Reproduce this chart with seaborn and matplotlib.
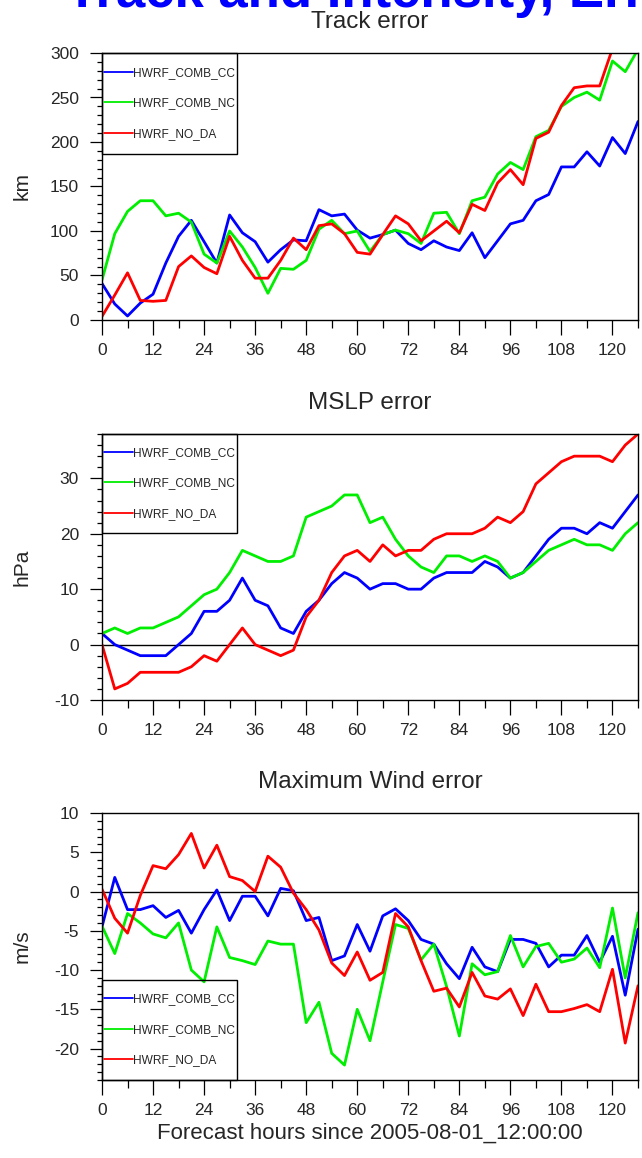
import matplotlib
matplotlib.use("Agg")
import matplotlib.pyplot as plt
import pandas as pd
import seaborn as sns
from matplotlib.lines import Line2D
from matplotlib.patches import Rectangle
from matplotlib.ticker import MultipleLocator

# Forecast lead times (hours), every 3 h
hours = list(range(0, 127, 3))
experiments = ["HWRF_COMB_CC", "HWRF_COMB_NC", "HWRF_NO_DA"]
colors = {"HWRF_COMB_CC": "#0000ff", "HWRF_COMB_NC": "#00ee00", "HWRF_NO_DA": "#ff0000"}

# Track error (km)
track_cc = [41, 18, 4.5, 19, 29, 64, 94, 112, 88, 64, 118, 98, 88, 65, 79, 90, 89, 124, 117, 119, 101,
            92, 96, 101, 86, 79, 89, 82, 78, 98, 70, 89, 108, 112, 134, 141, 172, 172, 189, 173, 205, 187, 223]
track_nc = [45, 97, 122, 134, 134, 117, 120, 110, 74, 64, 100, 82, 59, 30, 58, 57, 67, 102, 112, 97, 100,
            77, 96, 101, 97, 86, 120, 121, 97, 134, 138, 164, 177, 169, 206, 213, 240, 250, 256, 247, 291, 279, 304]
track_noda = [4, 28, 53, 22, 21, 22, 60, 72, 59, 52, 94, 67, 47, 47, 67, 92, 79, 106, 108, 97, 76,
              74, 96, 117, 108, 89, 100, 111, 98, 130, 123, 154, 169, 152, 204, 211, 241, 261, 263, 263, 305, 320, 335]

# Minimum sea-level pressure error (hPa)
mslp_cc = [2, 0, -1, -2, -2, -2, 0, 2, 6, 6, 8, 12, 8, 7, 3, 2, 6, 8, 11, 13, 12,
           10, 11, 11, 10, 10, 12, 13, 13, 13, 15, 14, 12, 13, 16, 19, 21, 21, 20, 22, 21, 24, 27]
mslp_nc = [2, 3, 2, 3, 3, 4, 5, 7, 9, 10, 13, 17, 16, 15, 15, 16, 23, 24, 25, 27, 27,
           22, 23, 19, 16, 14, 13, 16, 16, 15, 16, 15, 12, 13, 15, 17, 18, 19, 18, 18, 17, 20, 22]
mslp_noda = [0, -8, -7, -5, -5, -5, -5, -4, -2, -3, 0, 3, 0, -1, -2, -1, 5, 8, 13, 16, 17,
             15, 18, 16, 17, 17, 19, 20, 20, 20, 21, 23, 22, 24, 29, 31, 33, 34, 34, 34, 33, 36, 38]

# Maximum wind error (m/s)
wind_cc = [-4.5, 1.8, -2.3, -2.3, -1.8, -3.3, -2.4, -5.3, -2.3, 0.2, -3.7, -0.6, -0.6, -3.1, 0.4, 0.1,
           -3.7, -3.3, -8.8, -8.2, -4.2, -7.6, -3.1, -2.2, -3.7, -6.1, -6.7, -9.2, -11.1, -7.1, -9.6,
           -10.2, -6.1, -6.1, -6.6, -9.6, -8.1, -8.1, -5.6, -9.0, -5.7, -13.2, -4.8]
wind_nc = [-4.4, -7.9, -2.8, -4.0, -5.4, -5.9, -4.0, -10.0, -11.5, -4.5, -8.4, -8.8, -9.3, -6.3, -6.7,
           -6.7, -16.7, -14.1, -20.6, -22.1, -15.0, -19.0, -11.5, -4.2, -4.7, -8.7, -6.7, -12.1, -18.4,
           -9.2, -10.6, -10.2, -5.6, -9.6, -7.0, -6.6, -9.0, -8.6, -7.2, -9.7, -2.1, -11.0, -2.7]
wind_noda = [0.3, -3.4, -5.3, -0.5, 3.3, 2.9, 4.7, 7.4, 3.0, 5.9, 1.9, 1.4, 0.0, 4.5, 3.1, -0.2,
             -2.3, -4.9, -9.1, -10.7, -7.7, -11.3, -10.3, -2.8, -4.5, -8.8, -12.7, -12.3, -14.7,
             -10.3, -13.3, -13.7, -12.4, -15.8, -11.8, -15.3, -15.3, -14.9, -14.4, -15.3, -9.9, -19.3, -12.0]

sns.set_style("ticks")
plt.rcParams["font.family"] = ["Liberation Sans", "DejaVu Sans"]
plt.rcParams["axes.unicode_minus"] = False

W, H = 642, 1158
fig = plt.figure(figsize=(W / 100, H / 100), dpi=100)


def axes_px(left, top, right, bottom):
    return fig.add_axes([left / W, 1 - bottom / H, (right - left) / W, (bottom - top) / H])


def long_frame(series):
    rows = []
    for name, vals in zip(experiments, series):
        for h, v in zip(hours, vals):
            rows.append({"hour": h, "value": v, "exp": name})
    return pd.DataFrame(rows)


panels = [
    dict(box=(102, 53, 638, 320), title="Track error", ylabel="km",
         series=(track_cc, track_nc, track_noda), ylim=(0, 300), major=50, minor=10,
         zero=False, legend_top=True, legend_h=101),
    dict(box=(102, 434, 638, 700), title="MSLP error", ylabel="hPa",
         series=(mslp_cc, mslp_nc, mslp_noda), ylim=(-10, 38), major=10, minor=2,
         zero=True, legend_top=True, legend_h=99),
    dict(box=(102, 813, 638, 1080), title="Maximum Wind error", ylabel="m/s",
         series=(wind_cc, wind_nc, wind_noda), ylim=(-24, 10), major=5, minor=1,
         zero=True, legend_top=False, legend_h=100),
]

for i, p in enumerate(panels):
    l, t, r, b = p["box"]
    ax = axes_px(l, t, r, b)
    if p["zero"]:
        ax.axhline(0, color="black", lw=1.0, zorder=1)
    df = long_frame(p["series"])
    sns.lineplot(data=df, x="hour", y="value", hue="exp", hue_order=experiments,
                 palette=colors, lw=2.0, legend=False, estimator=None, sort=False, ax=ax)
    ax.set_xlim(0, 126)
    ax.set_ylim(*p["ylim"])
    ax.xaxis.set_major_locator(MultipleLocator(12))
    ax.xaxis.set_minor_locator(MultipleLocator(6))
    ax.yaxis.set_major_locator(MultipleLocator(p["major"]))
    ax.yaxis.set_minor_locator(MultipleLocator(p["minor"]))
    ax.tick_params(axis="x", which="major", direction="out", length=10.5, width=0.9,
                   labelsize=12.5, pad=6, color="black")
    ax.tick_params(axis="x", which="minor", direction="out", length=5.5, width=0.9, color="black")
    ax.tick_params(axis="y", which="major", direction="out", length=8.5, width=0.9,
                   labelsize=12.5, pad=8, color="black")
    ax.tick_params(axis="y", which="minor", direction="out", length=3.5, width=0.9, color="black")
    for s in ax.spines.values():
        s.set_visible(True)
        s.set_linewidth(1.0)
        s.set_color("black")
    ax.set_title(p["title"], fontsize=17.5, pad=18)
    ax.set_ylabel(p["ylabel"], fontsize=15, va="center")
    ax.yaxis.set_label_coords(-(l - 22) / (r - l), 0.5)
    if i == 2:
        ax.set_xlabel("Forecast hours since 2005-08-01_12:00:00", fontsize=16, va="center")
        ax.xaxis.set_label_coords(0.5, -(1133 - b) / (b - t))
    else:
        ax.set_xlabel("")

    # legend box in the corner of the panel
    bw = 135 / (r - l)
    bh = p["legend_h"] / (b - t)
    by = 1 - bh if p["legend_top"] else 0
    ax.add_patch(Rectangle((0, by), bw, bh, transform=ax.transAxes, fill=False,
                           ec="black", lw=1.0, zorder=5, clip_on=False))
    handles = [Line2D([0], [0], color=colors[e], lw=1.3) for e in experiments]
    ax.legend(handles, experiments, loc="center", bbox_to_anchor=(bw / 2, by + bh / 2),
              frameon=False, fontsize=8.6, handlelength=2.35, handletextpad=0.0,
              labelspacing=1.55, borderpad=0.0, borderaxespad=0.0)

fig.text(66 / W, 1 - 7 / H, "Track and Intensity, Errors", color="#0000ff",
         fontsize=38, fontweight="bold", ha="left", va="baseline")

fig.savefig("out.png", dpi=100)
